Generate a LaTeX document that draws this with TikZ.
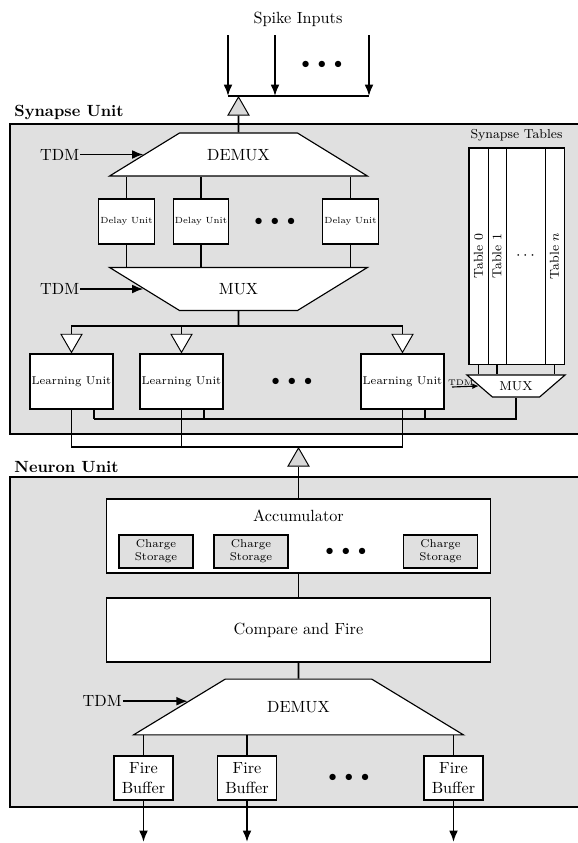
\documentclass[tikz,border=0pt]{standalone}
\usepackage{tikz}
\usetikzlibrary{shapes,arrows.meta,positioning,calc,fit}

\tikzset{
  unitbox/.style={draw, line width=1pt, fill=black!12, inner sep=0pt},
  unitname/.style={font=\bfseries, anchor=south west, inner xsep=3pt, inner ysep=2pt},
  block/.style={draw, line width=0.8pt, fill=white, align=center, inner sep=1pt},
  delaybox/.style={block, minimum width=1.149cm, minimum height=0.976cm, font=\fontsize{5.5}{6.5}\selectfont},
  learnbox/.style={block, minimum width=1.756cm, minimum height=1.192cm, font=\scriptsize},
  storebox/.style={block, fill=black!12, minimum width=1.604cm, minimum height=0.715cm, font=\scriptsize},
  firebox/.style={block, minimum width=1.279cm, minimum height=0.954cm},
  muxbox/.style={draw, line width=0.7pt, fill=white, trapezium, trapezium stretches body, inner xsep=0pt, text height=7pt, text depth=0pt},
  tabcol/.style={draw, line width=0.5pt, fill=white, inner sep=0pt, minimum height=4.683cm, font=\footnotesize},
  uptri/.style={draw, line width=0.6pt, fill=black!15, regular polygon, regular polygon sides=3, minimum size=0.525cm, inner sep=0pt},
  downtri/.style={uptri, fill=white, shape border rotate=180},
  tdmlbl/.style={inner sep=0.5pt},
  wire/.style={line width=1.2pt},
  sig/.style={line width=1.2pt, -{Latex[length=7pt,width=5.5pt]}},
  smallsig/.style={line width=0.7pt, -{Latex[length=4pt,width=3.5pt]}},
}
\newcommand{\threedots}{$\bullet$\hspace{5pt}$\bullet$\hspace{5pt}$\bullet$}

\begin{document}
\begin{tikzpicture}[x=0.02168cm, y=-0.02168cm]
  \useasboundingbox (0,0) rectangle (577,843);

  % Unit frames
  \node[unitbox, minimum width=12.40cm, minimum height=6.721cm] (syn) at (296,279) {};
  \node[unitname] (synlbl) at (syn.north west) {Synapse Unit};
  \node[unitbox, minimum width=12.40cm, minimum height=7.154cm] (nrn) at (296,642) {};
  \node[unitname] (nrnlbl) at (nrn.north west) {Neuron Unit};

  % Spike inputs
  \node (spk) at (298,19) {Spike Inputs};
  \coordinate (in1) at (228,35);
  \coordinate (in2) at (275,35);
  \coordinate (in3) at (369,35);
  \coordinate (ibus) at (238.5,96);
  \draw[sig] (in1) -- (in1 |- ibus);
  \draw[sig] (in2) -- (in2 |- ibus);
  \draw[sig] (in3) -- (in3 |- ibus);
  \draw[wire] (in1 |- ibus) -- (in3 |- ibus);
  \node (indots) at (322,65) {\threedots};
  \node[uptri, anchor=corner 1] (gt1) at (ibus) {};

  % Delay stage
  \node[muxbox, trapezium angle=31.6, inner ysep=9.8pt, minimum width=5.593cm] (dmx1) at (238.5,154.5) {DEMUX};
  \draw[wire] (gt1.side 2) -- (dmx1.north);
  \node[tdmlbl, left=1.37cm of dmx1.west] (tdm1) {TDM};
  \draw[sig] (tdm1) -- (dmx1.west);
  \node[delaybox] (d1) at (126.5,221.5) {Delay Unit};
  \node[delaybox] (d2) at (201,221.5) {Delay Unit};
  \node[delaybox] (d3) at (350.5,221.5) {Delay Unit};
  \node (ddots) at (275,222) {\threedots};
  \node[muxbox, shape border rotate=180, trapezium angle=31.6, inner ysep=9.8pt, minimum width=5.593cm] (mux1) at (238.5,289) {MUX};
  \node[tdmlbl, left=1.37cm of mux1.west] (tdm2) {TDM};
  \draw[sig] (tdm2) -- (mux1.west);
  \foreach \d in {d1,d2,d3}{
    \draw[wire] (\d.north) -- (\d.north |- dmx1.south);
    \draw[wire] (\d.south) -- (\d.south |- mux1.north);
  }

  % Learning stage
  \coordinate (lbus) at (238.5,326);
  \node[learnbox] (lu1) at (71.5,381.5) {Learning Unit};
  \node[learnbox] (lu2) at (181.5,381.5) {Learning Unit};
  \node[learnbox] (lu3) at (402.5,381.5) {Learning Unit};
  \node (ldots) at (292,382) {\threedots};
  \node[downtri, anchor=corner 1] (wt1) at (lu1.north) {};
  \node[downtri, anchor=corner 1] (wt2) at (lu2.north) {};
  \node[downtri, anchor=corner 1] (wt3) at (lu3.north) {};
  \draw[wire] (mux1.south) -- (lbus);
  \draw[wire] (wt1.side 2) |- (lbus) -| (wt3.side 2);
  \draw[wire] (wt2.side 2) -- (wt2.side 2 |- lbus);

  % Synapse tables
  \node[tabcol, minimum width=0.412cm] (t0) at (478.5,256) {\rotatebox{90}{Table 0}};
  \node[tabcol, minimum width=0.390cm] (t1) at (497,256) {\rotatebox{90}{Table 1}};
  \node[tabcol, minimum width=0.846cm, font=\normalsize] (tdot) at (525.5,256) {$\cdots$};
  \node[tabcol, minimum width=0.412cm] (tn) at (554.5,256) {\rotatebox{90}{Table $n$}};
  \node[draw, line width=0.9pt, inner sep=0pt, fit=(t0)(tn)] (tabs) {};
  \node[font=\footnotesize, above=0pt of tabs] (tablbl) {Synapse Tables};
  \node[muxbox, shape border rotate=180, trapezium angle=40.8, text height=5.6pt, inner ysep=3.95pt, minimum width=2.125cm, font=\footnotesize] (smux) at (516,386) {MUX};
  \foreach \t in {t0,t1,tn}
    \draw[wire] (\t.south) -- (\t.south |- smux.north);
  \coordinate (stdm) at (452,387);
  \draw[smallsig] (stdm) -- (smux.west) node[pos=0.33, above, font=\tiny, inner sep=0.5pt] (tdm4) {TDM};

  % Buses to neuron unit
  \coordinate (sbus) at (0,419);
  \coordinate (obus) at (298.5,447);
  \foreach \l in {lu1,lu2,lu3}{
    \coordinate (s\l) at ($(\l.south)+(22.5,0)$);
    \draw[wire] (s\l) -- (s\l |- sbus);
  }
  \draw[wire] (slu1 |- sbus) -| (smux.south);
  \draw[wire] (lu1.south) |- (obus) -| (lu3.south);
  \draw[wire] (lu2.south) -- (lu2.south |- obus);
  \node[uptri, anchor=corner 1] (gt2) at (obus) {};

  % Accumulator
  \node[block, minimum width=8.325cm, minimum height=1.604cm] (acc) at (298.5,536) {};
  \node[below=3.7pt of acc.north] (acclbl) {Accumulator};
  \node[storebox] (cs1) at (156,551.5) {Charge\\Storage};
  \node[storebox] (cs2) at (251,551.5) {Charge\\Storage};
  \node[storebox] (cs3) at (440.5,551.5) {Charge\\Storage};
  \node (csdots) at (346,552) {\threedots};
  \draw[wire] (gt2.side 2) -- (acc.north);

  % Compare and fire
  \node[block, minimum width=8.325cm, minimum height=1.388cm] (cf) at (298.5,630) {Compare and Fire};
  \draw[wire] (acc.south) -- (cf.north);

  % Output demux
  \node[muxbox, trapezium angle=31.3, inner ysep=13.7pt, minimum width=7.154cm] (ndmx) at (298.5,707) {DEMUX};
  \draw[wire] (cf.south) -- (ndmx.north);
  \node[tdmlbl, left=1.41cm of ndmx.177] (tdm3) {TDM};
  \draw[sig] (tdm3) -- (ndmx.177);

  % Fire buffers
  \node[firebox] (fb1) at (143.5,778) {Fire\\Buffer};
  \node[firebox] (fb2) at (247,778) {Fire\\Buffer};
  \node[firebox] (fb3) at (453.5,778) {Fire\\Buffer};
  \node (fbdots) at (349,778) {\threedots};
  \coordinate (outy) at (0,842);
  \foreach \f in {fb1,fb2,fb3}{
    \draw[wire] (\f.north) -- (\f.north |- ndmx.south);
    \draw[sig] (\f.south) -- (\f.south |- outy);
  }
\end{tikzpicture}
\end{document}
